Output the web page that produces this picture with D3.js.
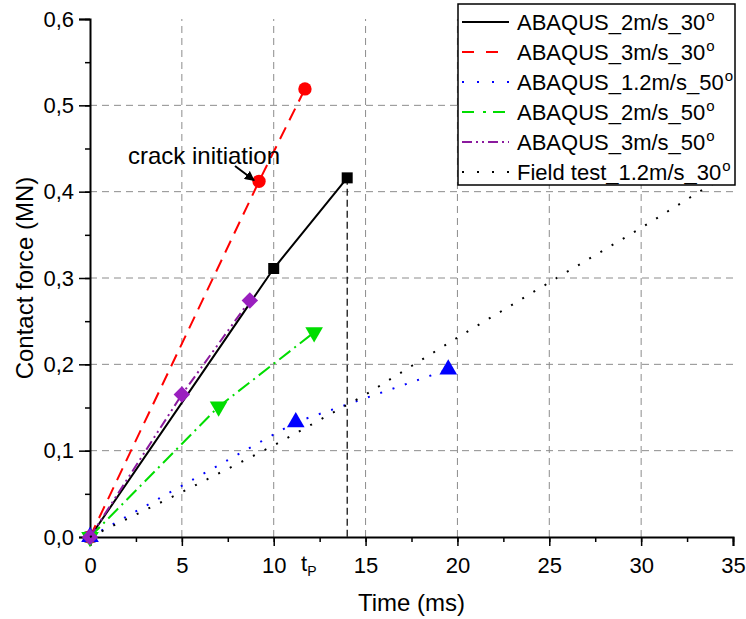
<!DOCTYPE html>
<html>
<head>
<meta charset="utf-8">
<script src="https://cdn.jsdelivr.net/npm/d3@7"></script>
<style>
  body { margin: 0; background: #fff; }
  svg { display: block; font-family: "Liberation Sans", Arial, sans-serif; }
</style>
</head>
<body>
<svg width="746" height="619"></svg>
<script>
// time (ms) / contact force (MN)
const t_2_30 = [0, 10, 14]
const f_2_30 = [0, 0.311, 0.416]
const t_3_30 = [0, 9.2, 11.7]
const f_3_30 = [0, 0.412, 0.519]
const t_12_50 = [0, 11.2, 19.5]
const f_12_50 = [0, 0.133, 0.194]
const t_2_50 = [0, 7.0, 12.2]
const f_2_50 = [0, 0.151, 0.237]
const t_3_50 = [0, 5.0, 8.7]
const f_3_50 = [0, 0.165, 0.274]
const t_field = [0, 5, 10, 15, 20, 24.7, 25.4, 30, 33.1, 35]
const f_field = [0, 0.052, 0.106, 0.165, 0.231, 0.291, 0.300, 0.358, 0.399, 0.423]

const seriesNames = ['ABAQUS_2m/s_30', 'ABAQUS_3m/s_30', 'ABAQUS_1.2m/s_50', 'ABAQUS_2m/s_50', 'ABAQUS_3m/s_50', 'Field test_1.2m/s_30']
const xTicks = [0, 5, 10, 15, 20, 25, 30, 35]
const yTicks = [0, 0.1, 0.2, 0.3, 0.4, 0.5, 0.6]
const tP = 14

const zip = (t, f) => t.map((d, i) => [d, f[i]])

const series = [
  {name: seriesNames[0], pts: zip(t_2_30, f_2_30), color: '#000', dash: null, lDash: null, marker: 'square'},
  {name: seriesNames[1], pts: zip(t_3_30, f_3_30), color: '#ff0000', dash: '13,8', lDash: '12,12', marker: 'circle'},
  {name: seriesNames[2], pts: zip(t_12_50, f_12_50), color: '#0000ff', dash: '2,11', lDash: '2,13', marker: 'up'},
  {name: seriesNames[3], pts: zip(t_2_50, f_2_50), color: '#00dd00', dash: '14,5,2,5', lDash: '12,9,3,7', marker: 'down'},
  {name: seriesNames[4], pts: zip(t_3_50, f_3_50), color: '#8b1a9e', dash: '10,4,2,4,2,4', lDash: '10,4,2,4,2,4', marker: 'diamond'},
  {name: seriesNames[5], pts: zip(t_field, f_field), color: '#000', dash: '2,11', lDash: '2,13', marker: null}
]

const margin = {top: 19, right: 13, bottom: 82, left: 90}
const width = 746, height = 619

const svg = d3.select('svg')

const x = d3.scaleLinear().domain([0, 35]).range([margin.left, width - margin.right])
const y = d3.scaleLinear().domain([0, 0.6]).range([height - margin.bottom, margin.top])

const fmt = d => d3.format('.1f')(d).replace('.', ',')

// grid
svg.append('g').selectAll('line')
  .data(xTicks.filter(d => d > 0 && d < 35))
  .join('line')
  .attr('x1', d => x(d)).attr('x2', d => x(d))
  .attr('y1', y(0)).attr('y2', y(0.6))
  .attr('stroke', '#8c8c8c').attr('stroke-width', 1).attr('stroke-dasharray', '7,5')

svg.append('g').selectAll('line')
  .data(yTicks.filter(d => d > 0 && d < 0.6))
  .join('line')
  .attr('x1', x(0)).attr('x2', x(35))
  .attr('y1', d => y(d)).attr('y2', d => y(d))
  .attr('stroke', '#8c8c8c').attr('stroke-width', 1).attr('stroke-dasharray', '7,5')

// tp guide
svg.append('line')
  .attr('x1', x(tP)).attr('x2', x(tP))
  .attr('y1', y(f_2_30[2])).attr('y2', y(0))
  .attr('stroke', '#000').attr('stroke-width', 1.2).attr('stroke-dasharray', '7,4')

// axes
function xAxis(g) {
  g.attr('transform', `translate(0,${y(0)})`)
    .call(d3.axisBottom(x).tickValues(d3.range(0, 35.01, 2.5)).tickSize(5).tickFormat(''))
    .call(g => g.select('.domain').remove())
  g.append('g')
    .call(d3.axisBottom(x).tickValues(xTicks).tickSize(9).tickPadding(11).tickFormat(d3.format('d')))
    .attr('font-size', 22).attr('font-family', null)
  g.selectAll('line').attr('stroke-width', 1.5)
  g.select('.domain').attr('stroke-width', 2)
}

function yAxis(g) {
  g.attr('transform', `translate(${x(0)},0)`)
    .call(d3.axisLeft(y).tickValues(d3.range(0, 0.601, 0.05)).tickSize(5).tickFormat(''))
    .call(g => g.select('.domain').remove())
  g.append('g')
    .call(d3.axisLeft(y).tickValues(yTicks).tickSize(11).tickPadding(5).tickFormat(fmt))
    .attr('font-size', 22).attr('font-family', null)
  g.selectAll('line').attr('stroke-width', 1.5)
  g.select('.domain').attr('stroke-width', 2)
}

svg.append('g').call(xAxis)
svg.append('g').call(yAxis)

svg.selectAll('.tick text').attr('fill', '#000')
svg.selectAll('.domain').attr('stroke', '#000')

// lines and markers
const line = d3.line().x(d => x(d[0])).y(d => y(d[1]))

function markerPath(kind) {
  if (kind === 'square') return d3.symbol(d3.symbolSquare, 121)()
  if (kind === 'circle') return d3.symbol(d3.symbolCircle, 140)()
  if (kind === 'up' || kind === 'down') return d3.symbol(d3.symbolTriangle, 135)()
  if (kind === 'diamond') return d3.symbol(d3.symbolSquare, 135)()
}
function markerRot(kind) {
  if (kind === 'down') return 180
  if (kind === 'diamond') return 45
  return 0
}
function markerFill(s) {
  return s.marker === 'diamond' ? '#9a1fbf' : s.color
}

series.forEach(s => {
  svg.append('path')
    .datum(s.pts)
    .attr('d', line)
    .attr('fill', 'none')
    .attr('stroke', s.color)
    .attr('stroke-width', 2)
    .attr('stroke-dasharray', s.dash)
  if (s.marker) {
    svg.append('g').selectAll('path')
      .data(s.pts)
      .join('path')
      .attr('d', markerPath(s.marker))
      .attr('transform', d => `translate(${x(d[0])},${y(d[1])}) rotate(${markerRot(s.marker)})`)
      .attr('fill', markerFill(s))
  }
})

// annotation
svg.append('defs').append('marker')
  .attr('id', 'arrow').attr('viewBox', '0 0 10 10')
  .attr('refX', 9).attr('refY', 5)
  .attr('markerWidth', 10).attr('markerHeight', 10).attr('markerUnits', 'userSpaceOnUse')
  .attr('orient', 'auto')
  .append('path').attr('d', 'M0,0L10,5L0,10z').attr('fill', '#000')

svg.append('text')
  .attr('x', 128).attr('y', 164)
  .attr('font-size', 24)
  .text('crack initiation')

svg.append('line')
  .attr('x1', 235).attr('y1', 166)
  .attr('x2', x(t_3_30[1]) - 5).attr('y2', y(f_3_30[1]) - 1)
  .attr('stroke', '#000').attr('stroke-width', 2)
  .attr('marker-end', 'url(#arrow)')

// tp label
const tpLabel = svg.append('text')
  .attr('x', 301).attr('y', 571)
  .attr('font-size', 22)
tpLabel.append('tspan').text('t')
tpLabel.append('tspan').attr('font-size', 14).attr('dy', 5).text('P')

// axis titles
svg.append('text')
  .attr('x', (x(0) + x(35)) / 2).attr('y', 611)
  .attr('text-anchor', 'middle').attr('font-size', 24)
  .text('Time (ms)')

svg.append('text')
  .attr('transform', `translate(33,${(y(0) + y(0.6)) / 2}) rotate(-90)`)
  .attr('text-anchor', 'middle').attr('font-size', 24)
  .text('Contact force (MN)')

// legend
const legend = svg.append('g')
legend.append('rect')
  .attr('x', 458).attr('y', 4).attr('width', 277).attr('height', 181)
  .attr('fill', '#fff').attr('stroke', '#000').attr('stroke-width', 1.5)

series.forEach((s, i) => {
  const ly = 22 + i * 30
  legend.append('line')
    .attr('x1', 462).attr('x2', 509).attr('y1', ly).attr('y2', ly)
    .attr('stroke', s.color).attr('stroke-width', 2)
    .attr('stroke-dasharray', s.lDash)
  const txt = legend.append('text')
    .attr('x', 517).attr('y', ly + 8)
    .attr('font-size', 22)
  txt.append('tspan').text(s.name)
  txt.append('tspan').attr('font-size', 15).attr('dy', -9).attr('dx', 1).text('o')
})
</script>
</body>
</html>
